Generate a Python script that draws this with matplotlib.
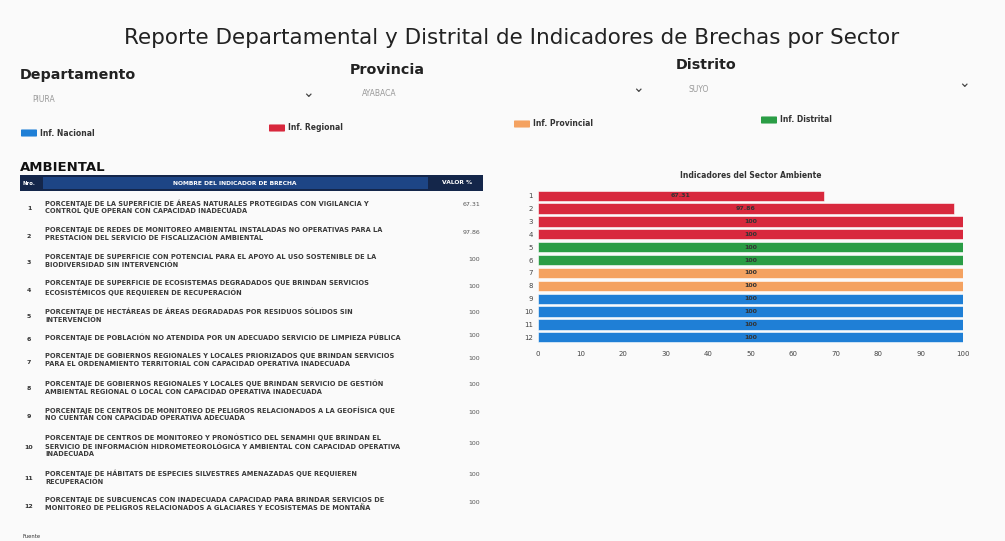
import numpy as np
import matplotlib.pyplot as plt
from matplotlib.patches import Rectangle, FancyBboxPatch

W, H = 1005, 541

titulo = "Reporte Departamental y Distrital de Indicadores de Brechas por Sector"
filtros = ["Departamento", "Provincia", "Distrito"]
filtros_valor = ["PIURA", "AYABACA", "SUYO"]
leyenda = ["Inf. Nacional", "Inf. Regional", "Inf. Provincial", "Inf. Distrital"]
leyenda_color = ["#1f7fd6", "#d8283d", "#f4a261", "#2a9d45"]

sector = "AMBIENTAL"
indicadores = [
    "PORCENTAJE DE LA SUPERFICIE DE ÁREAS NATURALES PROTEGIDAS CON VIGILANCIA Y\nCONTROL QUE OPERAN CON CAPACIDAD INADECUADA",
    "PORCENTAJE DE REDES DE MONITOREO AMBIENTAL INSTALADAS NO OPERATIVAS PARA LA\nPRESTACIÓN DEL SERVICIO DE FISCALIZACIÓN AMBIENTAL",
    "PORCENTAJE DE SUPERFICIE CON POTENCIAL PARA EL APOYO AL USO SOSTENIBLE DE LA\nBIODIVERSIDAD SIN INTERVENCIÓN",
    "PORCENTAJE DE SUPERFICIE DE ECOSISTEMAS DEGRADADOS QUE BRINDAN SERVICIOS\nECOSISTÉMICOS QUE REQUIEREN DE RECUPERACIÓN",
    "PORCENTAJE DE HECTÁREAS DE ÁREAS DEGRADADAS POR RESIDUOS SÓLIDOS SIN\nINTERVENCIÓN",
    "PORCENTAJE DE POBLACIÓN NO ATENDIDA POR UN ADECUADO SERVICIO DE LIMPIEZA PÚBLICA",
    "PORCENTAJE DE GOBIERNOS REGIONALES Y LOCALES PRIORIZADOS QUE BRINDAN SERVICIOS\nPARA EL ORDENAMIENTO TERRITORIAL CON CAPACIDAD OPERATIVA INADECUADA",
    "PORCENTAJE DE GOBIERNOS REGIONALES Y LOCALES QUE BRINDAN SERVICIO DE GESTIÓN\nAMBIENTAL REGIONAL O LOCAL CON CAPACIDAD OPERATIVA INADECUADA",
    "PORCENTAJE DE CENTROS DE MONITOREO DE PELIGROS RELACIONADOS A LA GEOFÍSICA QUE\nNO CUENTAN CON CAPACIDAD OPERATIVA ADECUADA",
    "PORCENTAJE DE CENTROS DE MONITOREO Y PRONÓSTICO DEL SENAMHI QUE BRINDAN EL\nSERVICIO DE INFORMACIÓN HIDROMETEOROLÓGICA Y AMBIENTAL CON CAPACIDAD OPERATIVA\nINADECUADA",
    "PORCENTAJE DE HÁBITATS DE ESPECIES SILVESTRES AMENAZADAS QUE REQUIEREN\nRECUPERACIÓN",
    "PORCENTAJE DE SUBCUENCAS CON INADECUADA CAPACIDAD PARA BRINDAR SERVICIOS DE\nMONITOREO DE PELIGROS RELACIONADOS A GLACIARES Y ECOSISTEMAS DE MONTAÑA",
]
valores = [67.31, 97.86, 100, 100, 100, 100, 100, 100, 100, 100, 100, 100]
nivel = ["Regional"] * 4 + ["Distrital"] * 2 + ["Provincial"] * 2 + ["Nacional"] * 4
color_nivel = {"Nacional": "#1f7fd6", "Regional": "#d8283d",
               "Provincial": "#f4a261", "Distrital": "#2a9d45"}


def P(x, y):
    return x / W, 1 - y / H


fig = plt.figure(figsize=(W / 100, H / 100), dpi=100)
fig.patch.set_facecolor("#fafafa")

fig.text(*P(512, 38), titulo, ha="center", va="center", fontsize=15.5, color="#222222")

# filtros
fx = [20, 350, 676]
fy = [75, 70, 65]
for i in range(3):
    fig.text(*P(fx[i], fy[i]), filtros[i], ha="left", va="center", fontsize=10.3,
             fontweight="bold", color="#222222")
    fig.text(*P(fx[i] + 12, fy[i] + 24), filtros_valor[i], ha="left", va="center",
             fontsize=5.5, color="#999999")
    fig.text(*P(fx[i] + 288, fy[i] + 18), "⌄", ha="center", va="center",
             fontsize=10, color="#444444")

# leyenda
lx = [22, 270, 515, 762]
ly = [133, 128, 124, 120]
for i in range(4):
    fig.patches.append(FancyBboxPatch(P(lx[i], ly[i] + 3), 14 / W, 6 / H,
                                      boxstyle="round,pad=0.001",
                                      transform=fig.transFigure,
                                      facecolor=leyenda_color[i], edgecolor="none"))
    fig.text(*P(lx[i] + 18, ly[i]), leyenda[i], ha="left", va="center",
             fontsize=5.5, fontweight="bold", color="#333333")

# tabla
fig.text(*P(20, 168), sector, ha="left", va="center", fontsize=9.5,
         fontweight="bold", color="#111111")
fig.patches.append(Rectangle(P(20, 191), 463 / W, 16 / H, transform=fig.transFigure,
                             facecolor="#14264a", edgecolor="none"))
fig.patches.append(Rectangle(P(43, 189), 385 / W, 12 / H, transform=fig.transFigure,
                             facecolor="#1d4585", edgecolor="none"))
fig.text(*P(29, 183), "Nro.", ha="center", va="center", fontsize=3.8,
         fontweight="bold", color="white")
fig.text(*P(235, 183), "NOMBRE DEL INDICADOR DE BRECHA", ha="center", va="center",
         fontsize=4.3, fontweight="bold", color="white")
fig.text(*P(457, 182), "VALOR %", ha="center", va="center", fontsize=4.3,
         fontweight="bold", color="white")

lh, pad = 9, 9
top = 193.5
for i, txt in enumerate(indicadores):
    n = txt.count("\n") + 1
    h = n * lh + pad
    yc = top + h / 2
    fig.text(*P(29, yc + 2), str(i + 1), ha="center", va="center", fontsize=4.5,
             fontweight="bold", color="#333333")
    fig.text(*P(45, yc), txt, ha="left", va="center", fontsize=4.8,
             fontweight="bold", color="#3a3a3a", linespacing=1.3)
    fig.text(*P(480, yc - 2), f"{valores[i]:g}", ha="right", va="center",
             fontsize=4.5, color="#555555")
    top += h
fig.text(*P(22, 537), "Fuente", ha="left", va="center", fontsize=3.8, color="#333333")

# grafico de barras
x0, x1 = 538, 963
ytop, ybot = 188, 345
ax = fig.add_axes([x0 / W, 1 - ybot / H, (x1 - x0) / W, (ybot - ytop) / H])
pos = np.arange(1, len(valores) + 1)
colores = [color_nivel[n] for n in nivel]
ax.barh(pos, valores, height=0.8, color=colores, edgecolor="white", linewidth=0.4)
for p, v in zip(pos, valores):
    ax.text(v / 2, p, f"{v:g}", ha="center", va="center", fontsize=4.5,
            fontweight="bold", color="#333333")
ax.set_ylim(12.6, 0.4)
ax.set_xlim(0, 100)
ax.set_yticks(pos)
ax.set_yticklabels([str(p) for p in pos])
ax.set_xticks(np.arange(0, 101, 10))
ax.tick_params(axis="both", length=0, labelsize=5, colors="#444444")
ax.tick_params(axis="x", pad=4)
for s in ax.spines.values():
    s.set_visible(False)
ax.set_facecolor("none")
ax.set_title("Indicadores del Sector Ambiente", fontsize=5.5, fontweight="bold",
             color="#333333", pad=7)

fig.savefig("out.png", dpi=100)
